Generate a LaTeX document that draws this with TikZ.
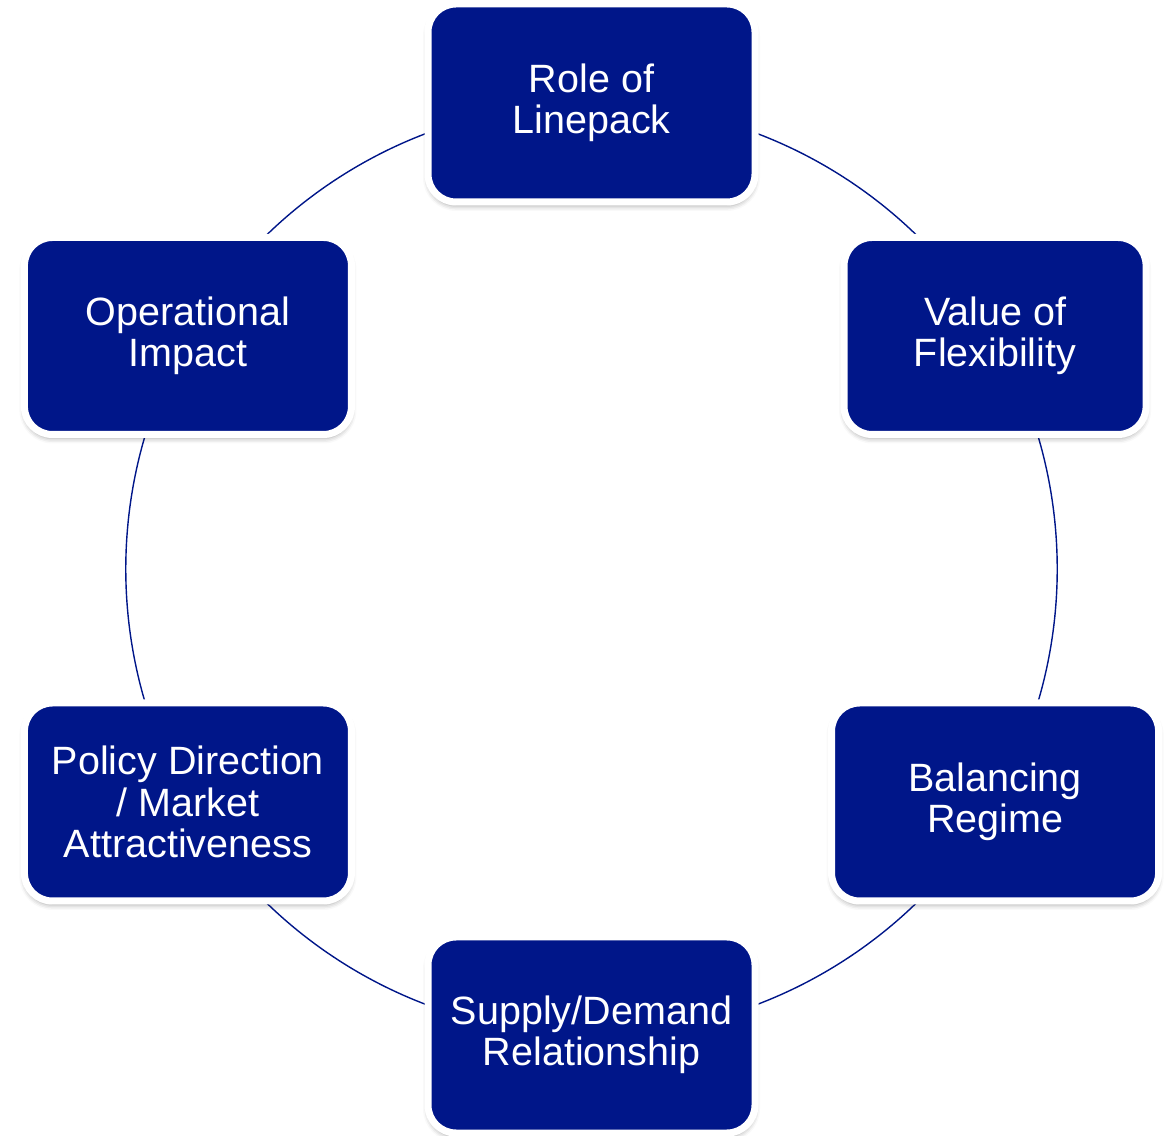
\documentclass[tikz,border=0pt]{standalone}
\usepackage{fontspec}
\setmainfont{Liberation Sans}
\usetikzlibrary{shadows.blur,backgrounds}
\definecolor{boxblue}{RGB}{0,22,137}
\tikzset{
  topic/.style={rounded corners=28pt, fill=boxblue, draw=white, line width=7pt,
    text=white, align=center, inner sep=0pt,
    font=\fontsize{39.5}{41.5}\selectfont,
    blur shadow={shadow xshift=0pt, shadow yshift=-4pt, shadow blur radius=5pt, shadow opacity=35}},
  ring/.style={draw=boxblue, line width=1.4pt, bend right=30, looseness=0.912}
}
\begin{document}
\begin{tikzpicture}[x=1pt,y=1pt]
\useasboundingbox (0,0) rectangle (1167,1135);
\coordinate (c) at (591.5,566);
\node[topic, minimum width=327pt, minimum height=198pt] (lp) at ([shift={(90:466pt)}]c) {Role of\\Linepack};
\node[topic, minimum width=302pt, minimum height=197pt] (vf) at ([shift={(30:466pt)}]c) {Value of\\Flexibility};
\node[topic, minimum width=327pt, minimum height=198pt] (br) at ([shift={(-30:466pt)}]c) {Balancing\\Regime};
\node[topic, minimum width=327pt, minimum height=196pt] (sd) at ([shift={(-90:466pt)}]c) {Supply/Demand\\Relationship};
\node[topic, minimum width=327pt, minimum height=198pt] (pd) at ([shift={(-150:466pt)}]c) {Policy Direction\\/ Market\\Attractiveness};
\node[topic, minimum width=327pt, minimum height=197pt] (oi) at ([shift={(150:466pt)}]c) {Operational\\Impact};
\begin{scope}[on background layer]
\draw[ring] (lp.center) to (oi.center);
\draw[ring] (oi.center) to (pd.center);
\draw[ring] (pd.center) to (sd.center);
\draw[ring] (sd.center) to (br.center);
\draw[ring] (br.center) to (vf.center);
\draw[ring] (vf.center) to (lp.center);
\end{scope}
\end{tikzpicture}
\end{document}
